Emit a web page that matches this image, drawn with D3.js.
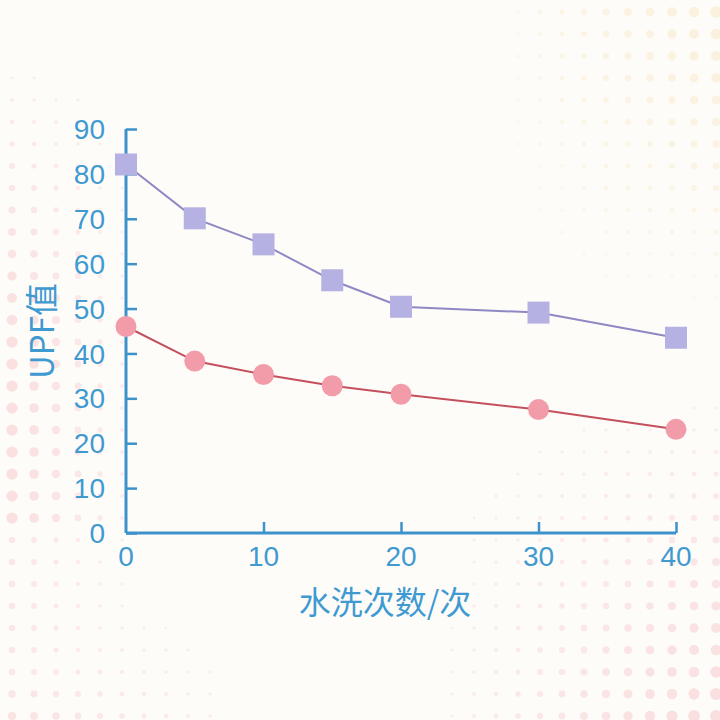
<!DOCTYPE html>
<html><head><meta charset="utf-8">
<script src="https://cdn.jsdelivr.net/npm/d3@7"></script>
<style>html,body{margin:0;padding:0;background:#fefcf8;}svg{display:block;}</style>
</head><body>
<script>
const washCounts = [0, 5, 10, 15, 20, 30, 40];
const seriesSquare = [82.1, 70.1, 64.3, 56.3, 50.4, 49.1, 43.5];
const seriesCircle = [46.0, 38.3, 35.3, 32.8, 30.9, 27.5, 23.1];
const yTicks = [0, 10, 20, 30, 40, 50, 60, 70, 80, 90];
const xTicks = [0, 10, 20, 30, 40];
const xTitle = "水洗次数/次";
const yTitle = "UPF值";

const W = 720, H = 720;
const svg = d3.select("body").append("svg").attr("width", W).attr("height", H);
svg.append("rect").attr("width", W).attr("height", H).attr("fill", "#fefcf8");

// decorative halftone background
const bg = svg.append("g");
const step = 22;
for (let gx = 12; gx < W; gx += step) {
  for (let gy = 12; gy < H; gy += step) {
    const dl = Math.max(0, 1 - gx / 150) * Math.max(0, Math.min(1, (gy - 40) / 300)) * (gy < 520 ? 1 : 0.5);
    const dtr = Math.max(0, (gx - 480) / 240) * Math.max(0, 1 - gy / 330);
    const dbr = Math.max(0, (gx - 420) / 300) * Math.max(0, (gy - 380) / 340);
    const dbl = Math.max(0, 1 - gx / 260) * Math.max(0, (gy - 580) / 140) * 0.7;
    let r = 0, col = "#f6c6cc";
    const pink = Math.max(dl, dbr * 1.1, dbl);
    if (dtr > pink) { r = dtr; col = "#f8e6c4"; } else { r = pink; }
    r = Math.min(1, r);
    if (r > 0.08) bg.append("circle").attr("cx", gx).attr("cy", gy).attr("r", 1 + 5 * r).attr("fill", col).attr("opacity", 0.25 + 0.3 * r);
  }
}

const x = d3.scaleLinear().domain([0, 40]).range([126, 676]);
const y = d3.scaleLinear().domain([0, 90]).range([533, 129]);
const axisCol = "#3d92cc";
const textCol = "#3f9ad2";
const font = "'Liberation Sans', Arial, sans-serif";

const yAxis = svg.append("g").attr("transform", `translate(126,0)`)
  .call(d3.axisRight(y).tickValues(yTicks).tickSize(11).tickFormat(""));
const xAxis = svg.append("g").attr("transform", `translate(0,533)`)
  .call(d3.axisTop(x).tickValues(xTicks.filter(d => d > 0)).tickSize(11).tickFormat(""));
[yAxis, xAxis].forEach(g => {
  g.select(".domain").remove();
  g.selectAll("line").attr("stroke", axisCol).attr("stroke-width", 2.5);
});
svg.append("line").attr("x1", 126).attr("x2", 126).attr("y1", y(90)).attr("y2", 533).attr("stroke", axisCol).attr("stroke-width", 3);
svg.append("line").attr("x1", 126).attr("x2", x(40)).attr("y1", 533).attr("y2", 533).attr("stroke", axisCol).attr("stroke-width", 3);

svg.append("g").selectAll("text").data(yTicks).join("text")
  .attr("x", 105).attr("y", d => y(d)).attr("dy", "0.36em")
  .attr("text-anchor", "end").attr("font-family", font).attr("font-size", 28)
  .attr("fill", textCol).text(d => d);
svg.append("g").selectAll("text").data(xTicks).join("text")
  .attr("x", d => x(d)).attr("y", 556).attr("dy", "0.36em")
  .attr("text-anchor", "middle").attr("font-family", font).attr("font-size", 28)
  .attr("fill", textCol).text(d => d);

svg.append("text").attr("x", 385).attr("y", 602).attr("dy", "0.36em")
  .attr("text-anchor", "middle").attr("font-family", "'Noto Sans CJK SC', sans-serif")
  .attr("font-size", 32).attr("fill", textCol).text(xTitle);
svg.append("text").attr("transform", "translate(42,331) rotate(-90)").attr("dy", "0.36em")
  .attr("text-anchor", "middle").attr("font-family", "'Noto Sans CJK SC', sans-serif")
  .attr("font-size", 33).attr("fill", textCol).text(yTitle);

const line = d3.line().x(d => x(d[0])).y(d => y(d[1]));
const sq = washCounts.map((c, i) => [c, seriesSquare[i]]);
const ci = washCounts.map((c, i) => [c, seriesCircle[i]]);

svg.append("path").datum(sq).attr("d", line).attr("fill", "none").attr("stroke", "#8f88c4").attr("stroke-width", 2);
svg.append("path").datum(ci).attr("d", line).attr("fill", "none").attr("stroke", "#c4505e").attr("stroke-width", 2);

svg.append("g").selectAll("rect").data(sq).join("rect")
  .attr("x", d => x(d[0]) - 11).attr("y", d => y(d[1]) - 11).attr("width", 22).attr("height", 22)
  .attr("fill", "#b5b1e2");
svg.append("g").selectAll("circle").data(ci).join("circle")
  .attr("cx", d => x(d[0])).attr("cy", d => y(d[1])).attr("r", 10.5)
  .attr("fill", "#f29ba9");
</script>
</body></html>
